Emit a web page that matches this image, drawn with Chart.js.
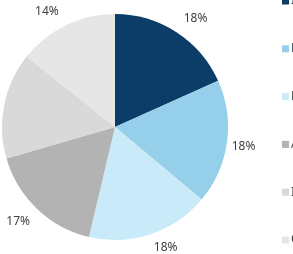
<!DOCTYPE html>
<html>
<head>
<meta charset="utf-8">
<script src="https://cdn.jsdelivr.net/npm/chart.js@4"></script>
<style>
    html, body { margin: 0; padding: 0; background: #fff; overflow: hidden; }
    #wrap { width: 293px; height: 254px; }
</style>
</head>
<body>
<div id="wrap"><canvas id="pieChart" width="293" height="254"></canvas></div>
<script>
// Chart data
const categories = ['Infrastructure', 'Energy', 'Housing', 'Agriculture', 'Industry', 'Other'];
const shares = [18.3, 17.8, 17.6, 16.8, 15.2, 14.3];
const sliceColors = ['#0b3d68', '#96cfea', '#c9ebf9', '#b3b3b3', '#d9d9d9', '#e6e6e6'];

const textColor = '#404040';
const labelFont = '12px "Noto Sans", sans-serif';

function clampSign(v) {
    return Math.max(-1, Math.min(1, v * 2.5));
}

// Percent labels just outside each slice (label box pushed off the pie edge)
const outsideLabels = {
    id: 'outsideLabels',
    afterDatasetsDraw(chart) {
        const ctx = chart.ctx;
        const meta = chart.getDatasetMeta(0);
        ctx.save();
        ctx.font = labelFont;
        ctx.fillStyle = textColor;
        ctx.textAlign = 'center';
        ctx.textBaseline = 'middle';
        meta.data.forEach((arc, i) => {
            const p = arc.getProps(['x', 'y', 'startAngle', 'endAngle', 'outerRadius'], true);
            const mid = (p.startAngle + p.endAngle) / 2;
            const text = Math.round(shares[i]) + '%';
            const dx = Math.cos(mid);
            const dy = Math.sin(mid);
            const halfW = ctx.measureText(text).width / 2 + 6 * Math.abs(dy);
            const halfH = 10;
            const dist = p.outerRadius + 4;
            const x = p.x + dx * dist + clampSign(dx) * halfW;
            const y = p.y + dy * dist + clampSign(dy) * halfH;
            ctx.fillText(text, x, y);
        });
        ctx.restore();
    }
};

// Legend column on the right (runs past the edge like the original)
const sideLegend = {
    id: 'sideLegend',
    afterDraw(chart) {
        const ctx = chart.ctx;
        const left = chart.chartArea.right + 54;
        const step = 47.8;
        ctx.save();
        ctx.font = labelFont;
        ctx.textBaseline = 'middle';
        categories.forEach((name, i) => {
            const cy = 1 + i * step;
            ctx.fillStyle = sliceColors[i];
            ctx.fillRect(left, cy - 3.5, 7, 7);
            ctx.fillStyle = textColor;
            ctx.fillText(name, left + 9, cy);
        });
        ctx.restore();
    }
};

new Chart(document.getElementById('pieChart').getContext('2d'), {
    type: 'pie',
    data: {
        labels: categories,
        datasets: [{
            data: shares,
            backgroundColor: sliceColors,
            borderWidth: 0
        }]
    },
    options: {
        responsive: false,
        animation: false,
        layout: {
            padding: { left: 2, right: 65, top: 14, bottom: 14 }
        },
        plugins: {
            legend: { display: false },
            tooltip: { enabled: false }
        }
    },
    plugins: [outsideLabels, sideLegend]
});
</script>
</body>
</html>
